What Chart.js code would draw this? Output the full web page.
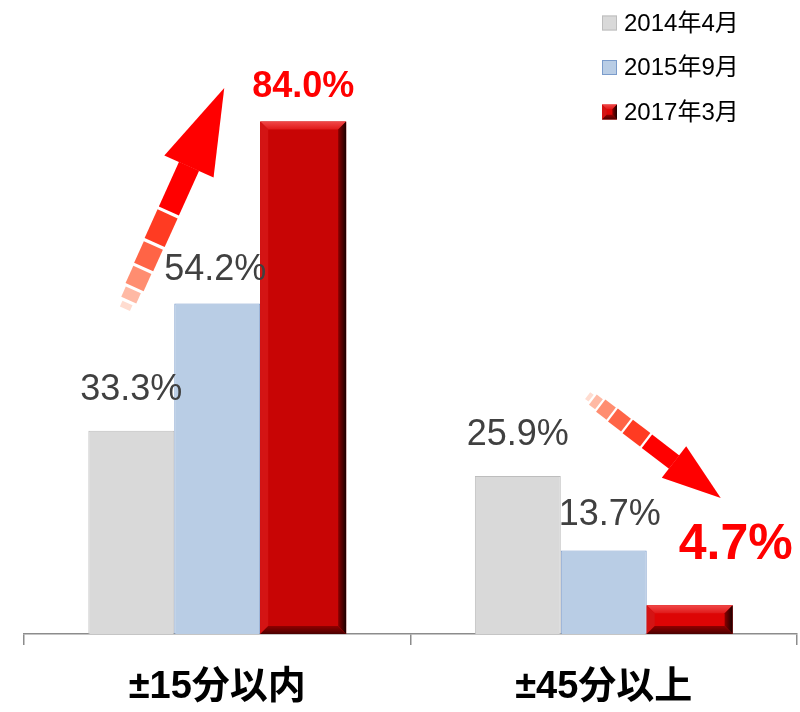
<!DOCTYPE html>
<html>
<head>
<meta charset="utf-8">
<script src="https://cdn.jsdelivr.net/npm/chart.js"></script>
<style>
  html, body { margin: 0; padding: 0; background: #fff; }
  #wrap { width: 800px; height: 712px; }
</style>
</head>
<body>
<div id="wrap"><canvas id="chart" width="800" height="712"></canvas></div>
<script>
// datos
const categories = ["±15分以内", "±45分以上"];
const seriesNames = ["2014年4月", "2015年9月", "2017年3月"];
const values2014 = [33.3, 25.9];
const values2015 = [54.2, 13.7];
const values2017 = [84.0, 4.7];

// estilos de cada serie
const fills = ["#D9D9D9", "#B9CDE5", "#C80000"];
const borders = ["#BDBDBD", "#7B9CCB", "#C80000"];

// desplazamiento de etiquetas (dx, separación sobre la barra)
const labelOffsets = [
  [[0, 41], [0, 41]],
  [[-2, 33], [6, 35]],
  [[0, 35], [46, 60]]
];

// flechas decorativas (en coordenadas de categoría / valor)
const arrows = [
  { cat: 0, tail: [-93, 53.1], tip: [7, 89.5], head: 86, headW: 27, shaftW: 11 },
  { cat: 1, tail: [-17, 39.2], tip: [117, 22.3], head: 59, headW: 20, shaftW: 8.5 }
];

function bevelRect(ctx, L, T, R, B, bright){
  const h = B - T;
  const b = Math.min(8, h / 3.2);
  ctx.fillStyle = bright ? "#DD0505" : "#C80505";
  ctx.fillRect(L, T, R - L, B - T);
  // arriba
  let g = ctx.createLinearGradient(0, T, 0, T + b);
  g.addColorStop(0, "#F04848"); g.addColorStop(1, "#E01818");
  ctx.fillStyle = g;
  ctx.beginPath(); ctx.moveTo(L, T); ctx.lineTo(R, T); ctx.lineTo(R - b, T + b); ctx.lineTo(L + b, T + b); ctx.closePath(); ctx.fill();
  // izquierda
  ctx.fillStyle = "#D41414";
  ctx.beginPath(); ctx.moveTo(L, T); ctx.lineTo(L + b, T + b); ctx.lineTo(L + b, B - b); ctx.lineTo(L, B); ctx.closePath(); ctx.fill();
  // derecha
  g = ctx.createLinearGradient(R - b, 0, R, 0);
  g.addColorStop(0, "#8A0000"); g.addColorStop(1, "#1A0000");
  ctx.fillStyle = g;
  ctx.beginPath(); ctx.moveTo(R, T); ctx.lineTo(R, B); ctx.lineTo(R - b, B - b); ctx.lineTo(R - b, T + b); ctx.closePath(); ctx.fill();
  // abajo
  g = ctx.createLinearGradient(0, B - b, 0, B);
  g.addColorStop(0, "#900000"); g.addColorStop(1, "#4A0000");
  ctx.fillStyle = g;
  ctx.beginPath(); ctx.moveTo(L, B); ctx.lineTo(R, B); ctx.lineTo(R - b, B - b); ctx.lineTo(L + b, B - b); ctx.closePath(); ctx.fill();
}

function drawArrow(ctx, x0, y0, x1, y1, a){
  const dx = x1 - x0, dy = y1 - y0;
  const len = Math.hypot(dx, dy);
  const ux = dx / len, uy = dy / len;
  const nx = -uy, ny = ux;
  const shaftLen = len - a.head;
  const pt = (t, w) => [x0 + ux * shaftLen * t + nx * w, y0 + uy * shaftLen * t + ny * w];
  // cabeza
  const hb = pt(1, 0);
  ctx.fillStyle = "#FF0000";
  ctx.beginPath();
  ctx.moveTo(x1, y1);
  ctx.lineTo(hb[0] + nx * a.headW, hb[1] + ny * a.headW);
  ctx.lineTo(hb[0] - nx * a.headW, hb[1] - ny * a.headW);
  ctx.closePath(); ctx.fill();
  // cuerpo segmentado que se desvanece
  const segs = [
    [0.69, 1.002, "#FF0000", 1],
    [0.47, 0.67, "#FF3B22", 1],
    [0.30, 0.45, "#FF6446", 0.95],
    [0.16, 0.28, "#FF8D70", 0.9],
    [0.07, 0.14, "#FFB9A4", 0.75],
    [0.01, 0.05, "#FFDCD0", 0.5]
  ];
  segs.forEach(s => {
    const w = a.shaftW * s[3];
    const p1 = pt(s[0], w), p2 = pt(s[1], w), p3 = pt(s[1], -w), p4 = pt(s[0], -w);
    ctx.fillStyle = s[2];
    ctx.beginPath();
    ctx.moveTo(p1[0], p1[1]); ctx.lineTo(p2[0], p2[1]); ctx.lineTo(p3[0], p3[1]); ctx.lineTo(p4[0], p4[1]);
    ctx.closePath(); ctx.fill();
  });
}

const decorPlugin = {
  id: "decor",
  afterDatasetsDraw(chart){
    const ctx = chart.ctx;
    const xs = chart.scales.x, ys = chart.scales.y;
    ctx.save();
    // barras rojas con bisel
    chart.getDatasetMeta(2).data.forEach((bar, i) => {
      const L = bar.x - bar.width / 2, R = bar.x + bar.width / 2;
      bevelRect(ctx, L, bar.y, R, bar.base, i === 1);
    });
    // etiquetas de datos
    chart.data.datasets.forEach((ds, di) => {
      chart.getDatasetMeta(di).data.forEach((bar, i) => {
        const off = labelOffsets[di][i];
        ctx.textAlign = "center";
        ctx.textBaseline = "middle";
        if (di === 2) {
          ctx.fillStyle = "#FF0000";
          ctx.font = i === 1 ? "bold 50px 'Liberation Sans', Arial, sans-serif" : "bold 36px 'Liberation Sans', Arial, sans-serif";
        } else {
          ctx.fillStyle = "#404040";
          ctx.font = "36px 'Liberation Sans', Arial, sans-serif";
        }
        ctx.fillText(ds.data[i].toFixed(1) + "%", bar.x + off[0], bar.y - off[1]);
      });
    });
    // flechas
    arrows.forEach(a => {
      const cx = xs.getPixelForValue(a.cat);
      drawArrow(ctx, cx + a.tail[0], ys.getPixelForValue(a.tail[1]), cx + a.tip[0], ys.getPixelForValue(a.tip[1]), a);
    });
    // leyenda
    seriesNames.forEach((name, i) => {
      const yc = 23 + i * 44.5;
      const bx = 602, bs = 15;
      if (i === 2) {
        bevelRect(ctx, bx, yc - bs / 2, bx + bs, yc + bs / 2, true);
      } else {
        ctx.fillStyle = fills[i];
        ctx.fillRect(bx, yc - bs / 2, bs, bs);
        ctx.strokeStyle = borders[i];
        ctx.lineWidth = 1;
        ctx.strokeRect(bx + 0.5, yc - bs / 2 + 0.5, bs - 1, bs - 1);
      }
      ctx.fillStyle = "#000";
      ctx.font = "24px 'Liberation Sans', Arial, 'Noto Sans CJK JP', sans-serif";
      ctx.textAlign = "left";
      ctx.textBaseline = "middle";
      ctx.fillText(name, 624, yc + 1);
    });
    ctx.restore();
  }
};

const datasets = [values2014, values2015, values2017].map((vals, i) => ({
  label: seriesNames[i],
  data: vals,
  backgroundColor: fills[i],
  borderColor: borders[i],
  borderWidth: 1,
  categoryPercentage: 0.667,
  barPercentage: 1.0
}));

new Chart(document.getElementById("chart"), {
  type: "bar",
  data: { labels: categories, datasets },
  options: {
    responsive: false,
    animation: false,
    layout: { padding: { top: 24, left: 24, right: 3, bottom: 0 } },
    plugins: { legend: { display: false }, tooltip: { enabled: false } },
    scales: {
      y: { display: false, min: 0, max: 100 },
      x: {
        afterFit(scale){ scale.height = 78; },
        border: { color: "#8C8C8C", width: 1.5 },
        grid: { offset: true, drawOnChartArea: false, tickLength: 11, color: "#8C8C8C", lineWidth: 1.5 },
        ticks: {
          color: "#000",
          padding: 20,
          font: { family: "'Liberation Sans', 'Noto Sans CJK JP', sans-serif", size: 38, weight: "bold" }
        }
      }
    }
  },
  plugins: [decorPlugin]
});
</script>
</body>
</html>
